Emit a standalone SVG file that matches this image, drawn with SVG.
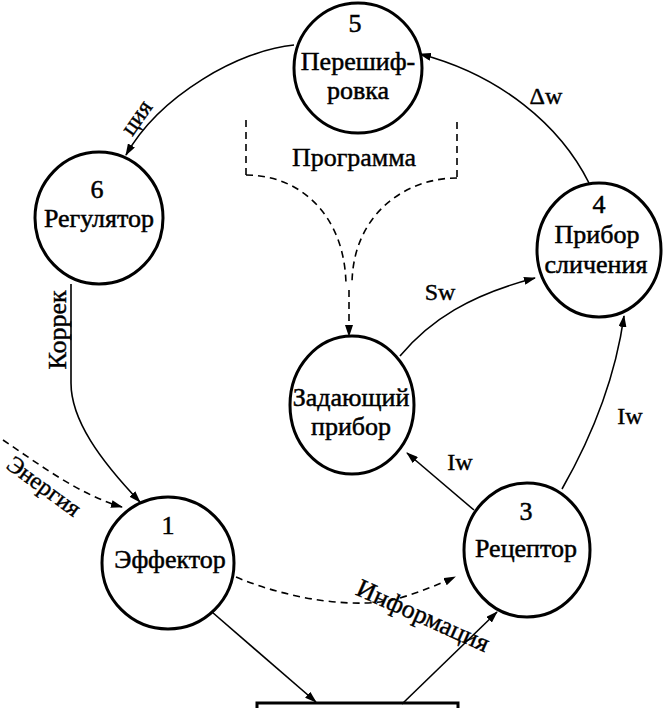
<svg xmlns="http://www.w3.org/2000/svg" width="664" height="708" viewBox="0 0 664 708">
<style>
.node{fill:none;stroke:#000;stroke-width:3}
.t{font-family:"Liberation Serif","Times New Roman",serif;font-size:26px;fill:#000;stroke:#000;stroke-width:0.5;text-anchor:middle}
.l{font-family:"Liberation Serif","Times New Roman",serif;font-size:24px;fill:#000;stroke:#000;stroke-width:0.4;text-anchor:middle}
.c{fill:none;stroke:#000;stroke-width:1.6}
.d{fill:none;stroke:#000;stroke-width:1.6;stroke-dasharray:7 5}
</style>
<defs>
<marker id="a" viewBox="0 0 12 8" refX="11" refY="4" markerWidth="12" markerHeight="8" markerUnits="userSpaceOnUse" orient="auto">
<path d="M0,0 L12,4 L0,8 Z" fill="#000"/>
</marker>
</defs>
<rect width="664" height="708" fill="#fff"/>
<g id="connectors">
<path class="c" d="M294,45 C240,50 160,95 126,155" marker-end="url(#a)"/>
<path class="c" d="M589,183 C560,125 500,75 420,54" marker-end="url(#a)"/>
<path class="c" d="M71,284 L71,383 C71,420 100,460 140,502" marker-end="url(#a)"/>
<path class="d" d="M3,440 C40,465 80,495 122,507" marker-end="url(#a)"/>
<path class="d" d="M236,577 C290,600 360,610 400,598 C420,592 440,584 455,577" marker-end="url(#a)"/>
<path class="c" d="M212,612 L316,702" marker-end="url(#a)"/>
<path class="c" d="M402,704 L497,612" marker-end="url(#a)"/>
<path class="c" d="M474,510 L407,453" marker-end="url(#a)"/>
<path class="c" d="M562,489 C590,440 615,380 624,316" marker-end="url(#a)"/>
<path class="c" d="M400,356 C430,320 470,295 535,278" marker-end="url(#a)"/>
<path class="d" d="M246,120 L246,175"/>
<path class="d" d="M457,122 L457,178"/>
<path class="d" d="M246,175 C300,175 345,215 346,285"/>
<path class="d" d="M457,178 C405,178 352,215 352,285"/>
<path class="d" d="M349,290 L349,336" marker-end="url(#a)"/>
<text class="l" x="354" y="166" style="font-size:26px">Программа</text>
<text class="l" transform="translate(137,118) rotate(-55)" y="7">ция</text>
<text class="l" x="546" y="104">Δw</text>
<text class="l" transform="translate(66,330) rotate(-90)" style="font-size:26px">Коррек</text>
<text class="l" transform="translate(44,486) rotate(36)" y="8" style="font-size:24px">Энергия</text>
<text class="l" transform="translate(423,616) rotate(24)" y="8" style="font-size:26px">Информация</text>
<text class="l" x="440" y="300">Sw</text>
<text class="l" x="630" y="424">Iw</text>
<text class="l" x="460" y="470">Iw</text>
</g>
<g id="n5">
<ellipse class="node" cx="358" cy="68" rx="64" ry="65"/>
<text class="t" x="355" y="32">5</text>
<text class="t" x="358" y="70">Перешиф-</text>
<text class="t" x="358" y="99">ровка</text>
</g>
<g id="n6">
<ellipse class="node" cx="99" cy="218" rx="64" ry="66"/>
<text class="t" x="97" y="198">6</text>
<text class="t" x="99" y="227">Регулятор</text>
</g>
<g id="n4">
<ellipse class="node" cx="599" cy="250" rx="62" ry="67"/>
<text class="t" x="599" y="213">4</text>
<text class="t" x="597" y="243">Прибор</text>
<text class="t" x="596" y="273">сличения</text>
</g>
<g id="nz">
<ellipse class="node" cx="352" cy="405" rx="62" ry="69"/>
<text class="t" x="351" y="406">Задающий</text>
<text class="t" x="351" y="435">прибор</text>
</g>
<g id="n1">
<ellipse class="node" cx="168" cy="563" rx="66" ry="66"/>
<text class="t" x="168" y="534">1</text>
<text class="t" x="170" y="568">Эффектор</text>
</g>
<g id="n3">
<ellipse class="node" cx="527" cy="550" rx="63" ry="67"/>
<text class="t" x="526" y="520">3</text>
<text class="t" x="526" y="557">Рецептор</text>
</g>
<g id="n2">
<rect class="node" x="257" y="703" width="201" height="20" stroke-width="4"/>
</g>
</svg>
